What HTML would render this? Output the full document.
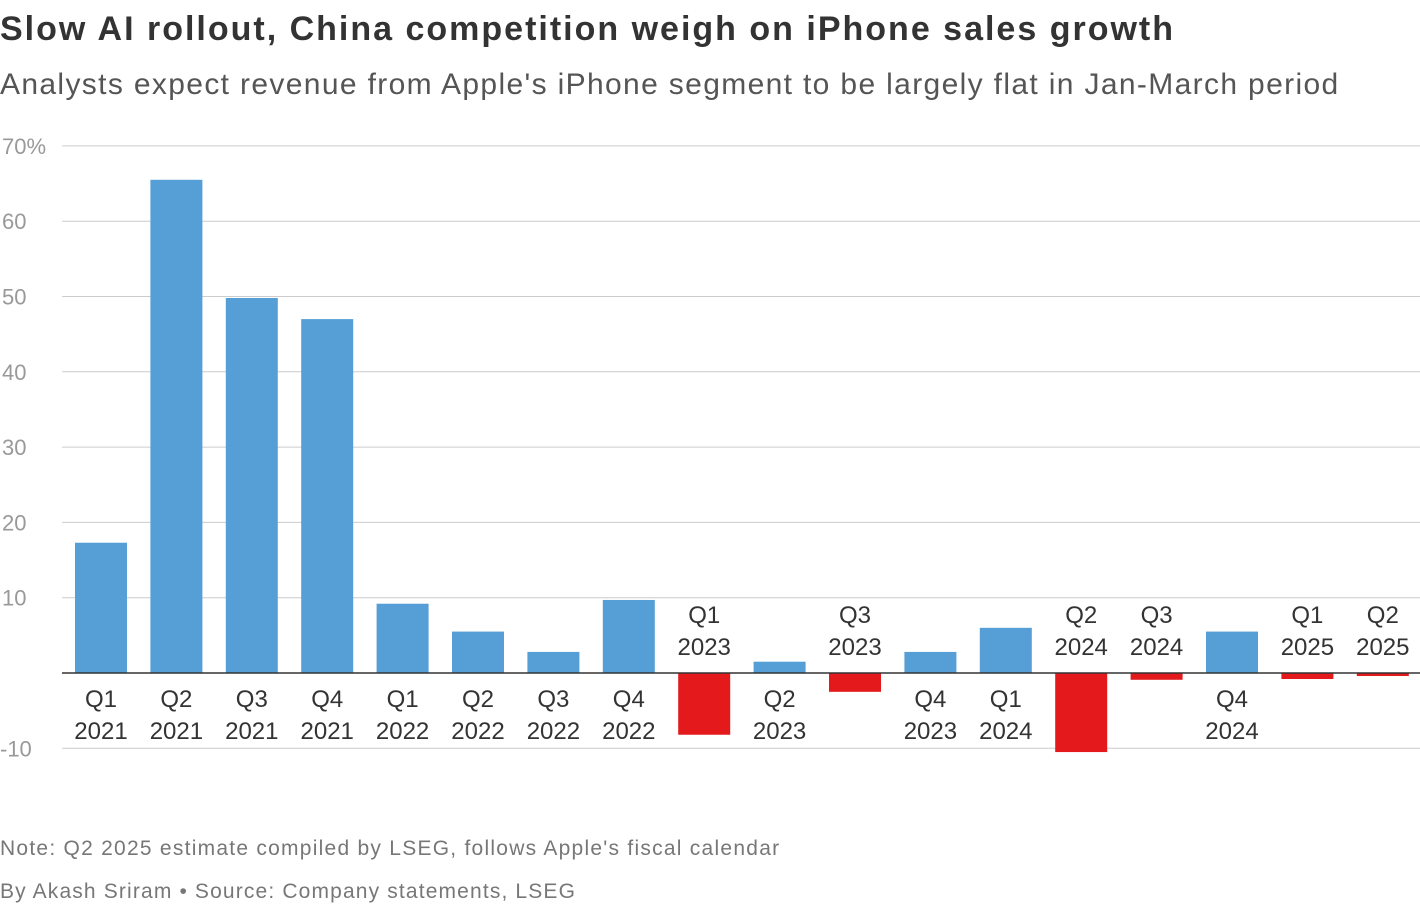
<!DOCTYPE html>
<html><head><meta charset="utf-8"><style>
body{margin:0;width:1420px;height:908px;background:#fff;font-family:"Liberation Sans",sans-serif;overflow:hidden;position:relative}
.t{position:absolute;white-space:nowrap}
</style></head><body>
<div class="t" style="left:0;top:10px;font-size:34px;font-weight:bold;color:#333;letter-spacing:2px">Slow AI rollout, China competition weigh on iPhone sales growth</div>
<div class="t" style="left:0;top:68px;font-size:30px;color:#555;letter-spacing:1.35px">Analysts expect revenue from Apple's iPhone segment to be largely flat in Jan-March period</div>
<svg id="chart" width="1420" height="800" style="position:absolute;left:0;top:0"></svg>
<div class="t" style="left:0;top:837px;font-size:21px;color:#777;letter-spacing:1.25px">Note: Q2 2025 estimate compiled by LSEG, follows Apple's fiscal calendar</div>
<div class="t" style="left:0;top:880px;font-size:21px;color:#777;letter-spacing:1.15px">By Akash Sriram • Source: Company statements, LSEG</div>
<script>
const quarters=["Q1","Q2","Q3","Q4","Q1","Q2","Q3","Q4","Q1","Q2","Q3","Q4","Q1","Q2","Q3","Q4","Q1","Q2"];
const years=["2021","2021","2021","2021","2022","2022","2022","2022","2023","2023","2023","2023","2024","2024","2024","2024","2025","2025"];
const growth=[17.3,65.5,49.8,47.0,9.2,5.5,2.8,9.7,-8.2,1.5,-2.5,2.8,6.0,-10.5,-0.9,5.5,-0.8,-0.4];
const ticks=[-10,0,10,20,30,40,50,60,70];
const NS="http://www.w3.org/2000/svg";
const svg=document.getElementById('chart');
const y=v=>673-v*7.53;
const x=i=>75+i*75.4;
const bw=52;
function mk(t,a){const e=document.createElementNS(NS,t);for(const k in a)e.setAttribute(k,a[k]);svg.appendChild(e);return e;}
ticks.forEach(t=>{
  if(t!==0){const l=mk('line',{x1:62,x2:1420,y1:y(t),y2:y(t),stroke:'#ccc','stroke-width':1});
  
  
  const tx=mk('text',{x:t<0?0:2,y:y(t)+8,'font-size':22,fill:'#999','font-family':'Liberation Sans'});
  tx.textContent=t===70?'70%':String(t);
  
  }
});
growth.forEach((v,i)=>{
  const r=mk('rect',{x:x(i),width:bw,y:Math.min(y(v),y(0)),height:Math.abs(y(v)-y(0)),fill:v>=0?'#559fd6':'#e3191c'});
  
  
  const cx=x(i)+bw/2;
  const y1=v>=0?707:623, y2=v>=0?739:655;
  const a=mk('text',{x:cx,y:y1,'text-anchor':'middle','font-size':24,fill:'#333','font-family':'Liberation Sans'});
  a.textContent=quarters[i];
  
  
  const b=mk('text',{x:cx,y:y2,'text-anchor':'middle','font-size':24,fill:'#333','font-family':'Liberation Sans'});
  b.textContent=years[i];
  
  
});
const z=mk('line',{x1:62,x2:1420,y1:y(0),y2:y(0),stroke:'#333','stroke-width':1.5});


</script>
</body></html>
